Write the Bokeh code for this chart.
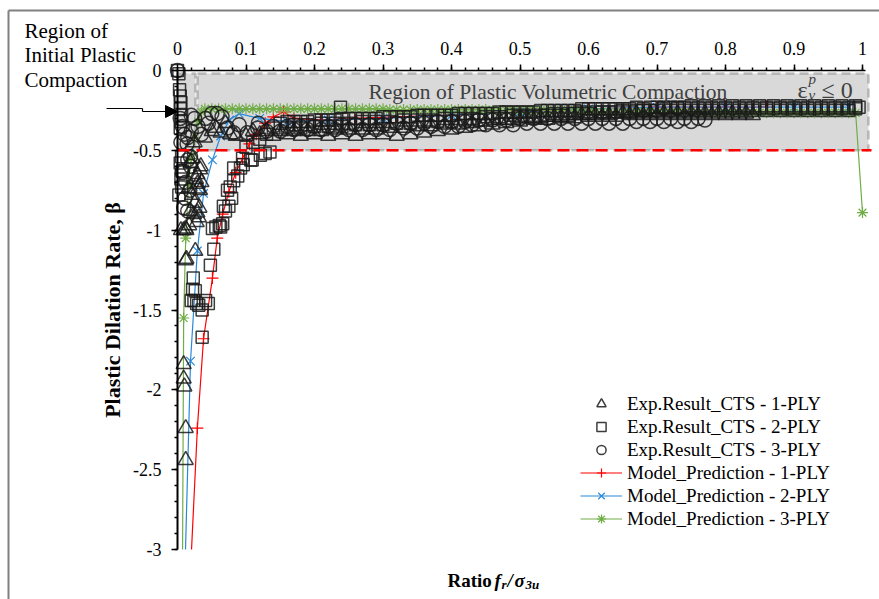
from bokeh.plotting import figure
from bokeh.models import (Range1d, LinearAxis, FixedTicker, BoxAnnotation, Label,
                          Arrow, NormalHead, Legend, LegendItem)
from bokeh.embed import file_html
from bokeh.resources import INLINE

# ---------------- data ----------------
# Exp.Result_CTS - 1-PLY (triangles)
exp1_x = [0.019, 0.034, 0.029, 0.033, 0.029, 0.016, 0.030, 0.033, 0.019, 0.029, 0.031, 0.024,
          0.012, 0.017, 0.005, 0.009, 0.013, 0.026, 0.012, 0.013, 0.009, 0.009, 0.010, 0.012, 0.012,
          0.022, 0.027, 0.021, 0.025, 0.035, 0.028, 0.032,
          0.025, 0.040, 0.050, 0.063, 0.077, 0.085, 0.070, 0.056,
          0.10, 0.12, 0.14, 0.16, 0.18, 0.20, 0.22, 0.24, 0.26, 0.28, 0.30, 0.32, 0.34, 0.36, 0.38,
          0.40, 0.42, 0.44, 0.46, 0.48, 0.50, 0.52, 0.54, 0.56, 0.58, 0.60, 0.62, 0.64, 0.66, 0.68,
          0.70, 0.72, 0.74, 0.76, 0.78, 0.80, 0.82, 0.84,
          0.11, 0.13, 0.15, 0.17, 0.19, 0.21, 0.23, 0.25, 0.27, 0.29, 0.31, 0.33, 0.35, 0.37, 0.39,
          0.41, 0.43, 0.45, 0.47, 0.49, 0.51, 0.53, 0.55, 0.57, 0.59, 0.61, 0.63, 0.65, 0.67, 0.69,
          0.71, 0.73, 0.75, 0.77, 0.79, 0.81, 0.83]
exp1_y = [-0.58, -0.60, -0.65, -0.62, -0.71, -0.74, -0.74, -0.75, -0.88, -0.89, -0.92, -0.90,
          -0.99, -0.97, -1.00, -1.00, -1.00, -1.13, -1.19, -1.18, -1.84, -1.93, -1.98, -2.24, -2.44,
          -0.55, -0.68, -0.78, -0.83, -0.70, -0.95, -0.86,
          -0.45, -0.42, -0.38, -0.39, -0.40, -0.41, -0.33, -0.36,
          -0.41, -0.40, -0.41, -0.40, -0.41, -0.40, -0.41, -0.40, -0.41, -0.40, -0.40, -0.41, -0.40, -0.39, -0.38,
          -0.37, -0.36, -0.35, -0.34, -0.33, -0.32, -0.31, -0.31, -0.30, -0.30, -0.29, -0.29, -0.29, -0.28, -0.28,
          -0.28, -0.28, -0.28, -0.28, -0.28, -0.28, -0.28, -0.28,
          -0.38, -0.38, -0.38, -0.38, -0.38, -0.38, -0.37, -0.37, -0.37, -0.37, -0.36, -0.36, -0.35, -0.35, -0.34,
          -0.34, -0.33, -0.32, -0.31, -0.31, -0.30, -0.30, -0.29, -0.29, -0.28, -0.28, -0.28, -0.27, -0.27, -0.27,
          -0.27, -0.27, -0.27, -0.27, -0.27, -0.27, -0.27]

# Exp.Result_CTS - 2-PLY (squares)
exp2_x = [0.000, 0.002, 0.004, 0.005, 0.004, 0.006, 0.005, 0.004, 0.003, 0.006, 0.004, 0.007, 0.005, 0.006, 0.002,
          0.023, 0.022, 0.024, 0.028, 0.045, 0.036, 0.041, 0.026, 0.020, 0.036, 0.031,
          0.048, 0.053, 0.051, 0.056, 0.061, 0.066, 0.063, 0.067, 0.070, 0.073, 0.075, 0.079, 0.077,
          0.082, 0.082, 0.088, 0.092, 0.095, 0.096, 0.107, 0.109, 0.121, 0.128, 0.135,
          0.100, 0.110, 0.120, 0.130, 0.140, 0.150,
          0.16, 0.18, 0.20, 0.22, 0.24, 0.26, 0.28, 0.30, 0.32, 0.34, 0.36, 0.38, 0.40, 0.42, 0.44,
          0.46, 0.48, 0.50, 0.52, 0.54, 0.56, 0.58, 0.60, 0.62, 0.64, 0.66, 0.68, 0.70, 0.72, 0.74,
          0.76, 0.78, 0.80, 0.82, 0.84, 0.86, 0.88, 0.90, 0.92, 0.94, 0.96, 0.98, 0.995, 0.238,
          0.17, 0.19, 0.21, 0.23, 0.25, 0.27, 0.29, 0.31, 0.33, 0.35, 0.37, 0.39, 0.41, 0.43,
          0.45, 0.47, 0.49, 0.51, 0.53, 0.55, 0.57, 0.59, 0.61, 0.63, 0.65, 0.67, 0.69, 0.71,
          0.73, 0.75, 0.77, 0.79, 0.81, 0.83, 0.85, 0.87, 0.89, 0.91, 0.93, 0.95, 0.97, 0.99,
          0.17, 0.19, 0.21, 0.23, 0.25, 0.27, 0.29, 0.31, 0.33, 0.35, 0.37, 0.39, 0.41, 0.43,
          0.45, 0.47, 0.49, 0.51, 0.53, 0.55, 0.57, 0.59, 0.61, 0.63, 0.65, 0.67, 0.69, 0.71,
          0.73, 0.75, 0.77, 0.79, 0.81, 0.83, 0.85, 0.87, 0.89, 0.91, 0.93, 0.95, 0.97, 0.99,
          0.16, 0.18, 0.20, 0.22, 0.24, 0.26, 0.28, 0.30, 0.32, 0.34, 0.36, 0.38, 0.40, 0.42,
          0.44, 0.46, 0.48, 0.50, 0.52, 0.54, 0.56, 0.58, 0.60, 0.62, 0.64, 0.66, 0.68, 0.70,
          0.72, 0.74, 0.76, 0.78, 0.80, 0.82, 0.84, 0.86, 0.88, 0.90, 0.92, 0.94, 0.96, 0.98]
exp2_y = [0.00, -0.02, -0.16, -0.20, -0.24, -0.28, -0.32, -0.36, -0.12, -0.54, -0.58, -0.63, -0.68, -0.73, -0.78,
          -1.30, -1.37, -1.44, -1.46, -1.46, -1.50, -1.44, -1.38, -1.44, -1.67, -1.47,
          -1.22, -1.12, -0.99, -0.98, -0.97, -0.96, -0.98, -0.85, -0.88, -0.75, -0.85, -0.80, -0.73,
          -0.69, -0.61, -0.66, -0.61, -0.55, -0.59, -0.56, -0.56, -0.53, -0.52, -0.51,
          -0.48, -0.45, -0.43, -0.40, -0.36, -0.33,
          -0.32, -0.32, -0.31, -0.31, -0.30, -0.30, -0.30, -0.29, -0.29, -0.29, -0.28, -0.28, -0.28, -0.27, -0.27,
          -0.27, -0.26, -0.26, -0.26, -0.25, -0.25, -0.25, -0.24, -0.24, -0.24, -0.24, -0.24, -0.23, -0.23, -0.23,
          -0.23, -0.23, -0.23, -0.23, -0.23, -0.23, -0.23, -0.23, -0.23, -0.23, -0.23, -0.23, -0.23, -0.23,
          -0.34, -0.34, -0.33, -0.33, -0.33, -0.32, -0.32, -0.32, -0.31, -0.31, -0.31, -0.30, -0.30, -0.30,
          -0.29, -0.29, -0.28, -0.28, -0.28, -0.27, -0.27, -0.26, -0.26, -0.26, -0.25, -0.25, -0.25, -0.24,
          -0.24, -0.24, -0.24, -0.24, -0.24, -0.24, -0.24, -0.24, -0.24, -0.24, -0.24, -0.24, -0.24, -0.24,
          -0.32, -0.32, -0.31, -0.31, -0.30, -0.30, -0.30, -0.29, -0.29, -0.28, -0.28, -0.28, -0.27, -0.27,
          -0.27, -0.26, -0.26, -0.26, -0.25, -0.25, -0.25, -0.24, -0.24, -0.24, -0.24, -0.23, -0.23, -0.23,
          -0.23, -0.22, -0.22, -0.22, -0.22, -0.22, -0.22, -0.22, -0.22, -0.22, -0.22, -0.22, -0.22, -0.22,
          -0.36, -0.36, -0.35, -0.35, -0.35, -0.34, -0.34, -0.34, -0.33, -0.33, -0.32, -0.32, -0.32, -0.31,
          -0.31, -0.30, -0.30, -0.29, -0.29, -0.28, -0.28, -0.27, -0.27, -0.26, -0.26, -0.26, -0.25, -0.25,
          -0.25, -0.25, -0.25, -0.25, -0.25, -0.25, -0.25, -0.25, -0.25, -0.25, -0.25, -0.25, -0.25, -0.25]

# Exp.Result_CTS - 3-PLY (circles)
exp3_x = [0.000, 0.004, 0.007, 0.010, 0.005, 0.015, 0.020, 0.025, 0.020, 0.030, 0.035, 0.041, 0.045,
          0.050, 0.058, 0.065, 0.014, 0.022,
          0.019, 0.007, 0.024, 0.015, 0.019, 0.007, 0.009, 0.015, 0.011, 0.012, 0.018,
          0.082, 0.102, 0.117, 0.090, 0.118, 0.073,
          0.13, 0.15, 0.17, 0.19, 0.21, 0.23, 0.25, 0.27, 0.29, 0.31, 0.33, 0.35, 0.37, 0.39, 0.41,
          0.43, 0.45, 0.47, 0.49, 0.51, 0.53, 0.55, 0.57, 0.59, 0.61, 0.63, 0.65, 0.67, 0.69, 0.71,
          0.73, 0.75, 0.77,
          0.14, 0.16, 0.18, 0.20, 0.22, 0.24, 0.26, 0.28, 0.30, 0.32, 0.34, 0.36, 0.38, 0.40, 0.42,
          0.44, 0.46, 0.48, 0.50, 0.52, 0.54, 0.56, 0.58, 0.60, 0.62, 0.64, 0.66, 0.68, 0.70, 0.72,
          0.74, 0.76]
exp3_y = [0.00, -0.30, -0.35, -0.40, -0.45, -0.42, -0.38, -0.30, -0.28, -0.35, -0.40, -0.30, -0.33,
          -0.27, -0.27, -0.29, -0.46, -0.48,
          -0.54, -0.63, -0.65, -0.56, -0.60, -0.64, -0.86, -0.88, -0.80, -0.70, -0.75,
          -0.39, -0.39, -0.36, -0.34, -0.33, -0.36,
          -0.38, -0.38, -0.37, -0.37, -0.37, -0.37, -0.37, -0.37, -0.37, -0.37, -0.36, -0.36, -0.35, -0.35, -0.35,
          -0.34, -0.34, -0.34, -0.34, -0.33, -0.33, -0.33, -0.33, -0.33, -0.33, -0.33, -0.33, -0.32, -0.32, -0.32,
          -0.32, -0.32, -0.31,
          -0.35, -0.35, -0.35, -0.35, -0.35, -0.34, -0.34, -0.34, -0.34, -0.33, -0.33, -0.33, -0.32, -0.32, -0.32,
          -0.31, -0.31, -0.31, -0.30, -0.30, -0.30, -0.30, -0.30, -0.30, -0.30, -0.30, -0.30, -0.30, -0.30, -0.30,
          -0.30, -0.30]

# Model_Prediction - 1-PLY
mod1_x = [0.0205, 0.029, 0.038, 0.051, 0.058, 0.066, 0.075, 0.085, 0.095, 0.105, 0.115, 0.128, 0.140,
          0.155, 0.17, 0.21, 0.26, 0.32, 0.40, 0.50, 0.60, 0.70, 0.80, 0.86]
mod1_y = [-3.00, -2.24, -1.68, -1.30, -1.05, -0.90, -0.76, -0.64, -0.55, -0.46, -0.40, -0.33, -0.29,
          -0.26, -0.30, -0.31, -0.30, -0.29, -0.28, -0.26, -0.24, -0.23, -0.23, -0.23]

# Model_Prediction - 2-PLY
mod2_x = [0.0117, 0.019, 0.029, 0.038, 0.051, 0.063, 0.076, 0.090, 0.12, 0.16, 0.22, 0.30, 0.40,
          0.50, 0.60, 0.70, 0.80, 0.90, 0.98]
mod2_y = [-3.00, -1.82, -1.13, -0.77, -0.56, -0.41, -0.31, -0.27, -0.30, -0.32, -0.31, -0.30, -0.28,
          -0.26, -0.24, -0.23, -0.23, -0.23, -0.23]

# Model_Prediction - 3-PLY
mod3_x = [0.0074, 0.009, 0.012, 0.016, 0.020, 0.025, 0.030, 0.035,
          0.04, 0.05, 0.06, 0.07, 0.08, 0.09, 0.10, 0.11, 0.12, 0.13,
          0.14, 0.15, 0.16, 0.17, 0.18, 0.19, 0.20, 0.21, 0.22, 0.23,
          0.24, 0.25, 0.26, 0.27, 0.28, 0.29, 0.30,
          0.31, 0.32, 0.33, 0.34, 0.35, 0.36, 0.37, 0.38, 0.39, 0.40,
          0.41, 0.42, 0.43, 0.44, 0.45, 0.46, 0.47, 0.48, 0.49, 0.50,
          0.51, 0.52, 0.53, 0.54, 0.55, 0.56, 0.57, 0.58, 0.59, 0.60,
          0.61, 0.62, 0.63, 0.64, 0.65, 0.66, 0.67, 0.68, 0.69, 0.70,
          0.71, 0.72, 0.73, 0.74, 0.75, 0.76, 0.77, 0.78, 0.79, 0.80,
          0.81, 0.82, 0.83, 0.84, 0.85, 0.86, 0.87, 0.88, 0.89, 0.90,
          0.91, 0.92, 0.93, 0.94, 0.95, 0.96, 0.97, 0.98, 0.99, 1.00]
mod3_y = [-3.00, -1.55, -1.05, -0.72, -0.55, -0.42, -0.32, -0.26,
          -0.24, -0.24, -0.24, -0.24, -0.24, -0.24, -0.24, -0.24, -0.24, -0.24,
          -0.24, -0.24, -0.24, -0.24, -0.24, -0.24, -0.24, -0.24, -0.24, -0.24,
          -0.24, -0.24, -0.24, -0.24, -0.24, -0.24, -0.24,
          -0.245, -0.245, -0.245, -0.245, -0.245, -0.245, -0.245, -0.245, -0.245, -0.245,
          -0.245, -0.245, -0.245, -0.245, -0.245, -0.25, -0.25, -0.25, -0.25, -0.25,
          -0.25, -0.25, -0.25, -0.25, -0.25, -0.25, -0.25, -0.25, -0.25, -0.25,
          -0.26, -0.26, -0.26, -0.26, -0.26, -0.26, -0.26, -0.26, -0.26, -0.26,
          -0.26, -0.26, -0.26, -0.26, -0.26, -0.265, -0.265, -0.265, -0.265, -0.265,
          -0.265, -0.265, -0.265, -0.265, -0.265, -0.265, -0.265, -0.265, -0.265, -0.265,
          -0.265, -0.265, -0.265, -0.265, -0.265, -0.265, -0.265, -0.265, -0.265, -0.89]

# axes ticks and labels
x_ticks = [0, 0.1, 0.2, 0.3, 0.4, 0.5, 0.6, 0.7, 0.8, 0.9, 1]
x_tick_labels = ["0", "0.1", "0.2", "0.3", "0.4", "0.5", "0.6", "0.7", "0.8", "0.9", "1"]
y_ticks = [0, -0.5, -1, -1.5, -2, -2.5, -3]
y_tick_labels = ["0", "-0.5", "-1", "-1.5", "-2", "-2.5", "-3"]
beta_limit = -0.5

series_labels = ["Exp.Result_CTS - 1-PLY", "Exp.Result_CTS - 2-PLY", "Exp.Result_CTS - 3-PLY",
                 "Model_Prediction - 1-PLY", "Model_Prediction - 2-PLY", "Model_Prediction - 3-PLY"]

# ---------------- layout helpers (pixel -> data) ----------------
X0, XS = 177.0, 685.0
Y0, YS = 70.0, 159.67
TXT_UP = 7  # baseline correction for labels, pixels


def X(px):
    return (px - X0) / XS


def Y(py):
    return -(py - Y0) / YS


def YB(py):
    return Y(py - TXT_UP)


W, H = 879, 599
SERIF = "Liberation Serif"

p = figure(width=W, height=H, x_range=Range1d(X(0), X(W)), y_range=Range1d(Y(H), Y(0)),
           output_backend="svg", toolbar_location=None,
           x_axis_location=None, y_axis_location=None, min_border=0,
           min_border_left=0, min_border_right=0, min_border_top=0, min_border_bottom=0)
p.outline_line_color = None
p.background_fill_color = "white"
p.border_fill_color = "white"
p.xgrid.visible = False
p.ygrid.visible = False

# axes
yaxis = LinearAxis(fixed_location=0, bounds=(-3, 0),
                   ticker=FixedTicker(ticks=y_ticks, minor_ticks=[-i * 0.1 for i in range(31)]),
                   major_label_overrides=dict(zip(y_ticks, y_tick_labels)),
                   axis_label="Plastic Dilation Rate, β")
xaxis = LinearAxis(fixed_location=0, bounds=(0, 1.005),
                   ticker=FixedTicker(ticks=x_ticks, minor_ticks=[i * 0.02 for i in range(51)]),
                   major_label_overrides=dict(zip(x_ticks, x_tick_labels)))
for ax in (xaxis, yaxis):
    ax.axis_line_color = "black"
    ax.major_tick_line_color = "black"
    ax.minor_tick_line_color = "black"
    ax.major_tick_in = 0
    ax.minor_tick_in = 0
    ax.major_tick_out = 6
    ax.minor_tick_out = 3
    ax.major_tick_line_width = 1.5
    ax.minor_tick_line_width = 1.5
    ax.major_label_text_font = SERIF
    ax.major_label_text_font_size = "18px"
    ax.major_label_text_color = "black"
yaxis.axis_line_width = 2
xaxis.axis_line_width = 1.5
yaxis.major_label_standoff = 10
xaxis.major_label_standoff = 10
yaxis.axis_label_text_font = SERIF
yaxis.axis_label_text_font_style = "bold"
yaxis.axis_label_text_font_size = "22px"
yaxis.axis_label_text_color = "black"
yaxis.axis_label_standoff = 5
p.add_layout(yaxis, "left")
p.add_layout(xaxis, "above")

# regions
p.add_layout(BoxAnnotation(left=0, right=X(195), top=Y(73), bottom=beta_limit,
                           fill_color="#d9d9d9", fill_alpha=1, line_color="#404040",
                           line_width=2.5, line_dash="9 5", level="underlay"))
p.add_layout(BoxAnnotation(left=X(197), right=X(868), top=Y(73), bottom=beta_limit,
                           fill_color="#d9d9d9", fill_alpha=1, line_color="#404040",
                           line_width=2.5, line_dash="9 5", level="underlay"))
p.segment(x0=[X(199.5)], y0=[Y(76)], x1=[X(199.5)], y1=[beta_limit], line_color="white",
          line_width=2, line_dash="9 5", level="underlay")

# model predictions (line ends where it leaves the axis at -3; markers from the first shown point)
m1l = p.line(mod1_x, mod1_y, line_color="#ff0000", line_width=1.2)
m1s = p.scatter(mod1_x[1:], mod1_y[1:], marker="cross", size=12, line_color="#ff0000", line_width=1.2)
m2l = p.line(mod2_x, mod2_y, line_color="#2a88d8", line_width=1.2)
m2s = p.scatter(mod2_x[1:], mod2_y[1:], marker="x", size=12, line_color="#2a88d8", line_width=1.2)
m3l = p.line(mod3_x, mod3_y, line_color="#70ad47", line_width=1.2)
m3s = p.scatter(mod3_x[1:], mod3_y[1:], marker="asterisk", size=11, line_color="#70ad47", line_width=1.2)

# experimental results
e1 = p.scatter(exp1_x, exp1_y, marker="triangle", size=15, fill_color=None,
               line_color="#1a1a1a", line_alpha=0.85, line_width=1.5)
e2 = p.scatter(exp2_x, exp2_y, marker="square", size=12, fill_color=None,
               line_color="#1a1a1a", line_alpha=0.85, line_width=1.5)
e3 = p.scatter(exp3_x, exp3_y, marker="circle", size=14, fill_color=None,
               line_color="#1a1a1a", line_alpha=0.85, line_width=1.5)

# red threshold line
p.segment(x0=[0], y0=[beta_limit], x1=[X(871)], y1=[beta_limit], line_color="#ff0000",
          line_width=2.5, line_dash="12 7")

# legend
legend = Legend(items=[
    LegendItem(label=series_labels[0], renderers=[e1]),
    LegendItem(label=series_labels[1], renderers=[e2]),
    LegendItem(label=series_labels[2], renderers=[e3]),
    LegendItem(label=series_labels[3], renderers=[m1l, m1s]),
    LegendItem(label=series_labels[4], renderers=[m2l, m2s]),
    LegendItem(label=series_labels[5], renderers=[m3l, m3s]),
], location=(580, 69), margin=0, padding=4, spacing=0,
    glyph_width=42, glyph_height=23, label_height=23, label_standoff=5,
    label_text_font=SERIF, label_text_font_size="19px", label_text_color="black",
    border_line_color=None, background_fill_alpha=0)
p.add_layout(legend)

# annotations: outer border
for (xs, ys, xe, ye) in [(X(8), Y(10), X(W + 5), Y(10)), (X(8), Y(10), X(8), Y(H + 5))]:
    p.add_layout(Arrow(x_start=xs, y_start=ys, x_end=xe, y_end=ye, start=None, end=None,
                       line_color="#808080", line_width=2))

# text: region of initial plastic compaction
for txt, base in [("Region of", 37), ("Initial Plastic", 61.5), ("Compaction", 86)]:
    p.add_layout(Label(x=X(24), y=YB(base), text=txt, text_font=SERIF, text_font_size="21px",
                       text_color="black", text_baseline="alphabetic", text_align="left"))

# arrow
p.add_layout(Arrow(x_start=X(106), y_start=Y(108), x_end=X(142), y_end=Y(108), start=None, end=None,
                   line_color="black", line_width=1.2))
p.add_layout(Arrow(x_start=X(142), y_start=Y(108), x_end=X(142), y_end=Y(111), start=None, end=None,
                   line_color="black", line_width=1.2))
p.add_layout(Arrow(x_start=X(142), y_start=Y(111), x_end=X(177), y_end=Y(111), start=None,
                   end=NormalHead(size=12, fill_color="black", line_color="black"),
                   line_color="black", line_width=1.2))

# region of plastic volumetric compaction
p.add_layout(Label(x=X(547.5), y=YB(98), text="Region of Plastic Volumetric Compaction",
                   text_font=SERIF, text_font_size="21.5px", text_color="#404040",
                   text_align="center", text_baseline="alphabetic"))
p.add_layout(Label(x=X(797), y=YB(96), text="ε", text_font=SERIF, text_font_size="24px",
                   text_color="#404040", text_baseline="alphabetic"))
p.add_layout(Label(x=X(808), y=YB(85), text="p", text_font=SERIF, text_font_size="15px",
                   text_font_style="italic", text_color="#404040", text_baseline="alphabetic"))
p.add_layout(Label(x=X(808), y=YB(101), text="v", text_font=SERIF, text_font_size="15px",
                   text_font_style="italic", text_color="#404040", text_baseline="alphabetic"))
p.add_layout(Label(x=X(821), y=YB(96), text="≤ 0", text_font=SERIF, text_font_size="24px",
                   text_color="#404040", text_baseline="alphabetic"))

# x-axis title: Ratio f_r / sigma_3u
for txt, px, base, size, style in [("Ratio", 447, 587, "19px", "bold"),
                                   ("f", 494, 587, "19px", "bold italic"),
                                   ("r", 501, 591, "13px", "bold italic"),
                                   ("/", 507, 587, "19px", "bold italic"),
                                   ("σ", 514, 587, "19px", "bold italic"),
                                   ("3u", 525, 591, "13px", "bold italic")]:
    p.add_layout(Label(x=X(px), y=YB(base), text=txt, text_font=SERIF, text_font_size=size,
                       text_font_style=style, text_color="black", text_baseline="alphabetic"))

open("out.html", "w").write(file_html(p, INLINE))
